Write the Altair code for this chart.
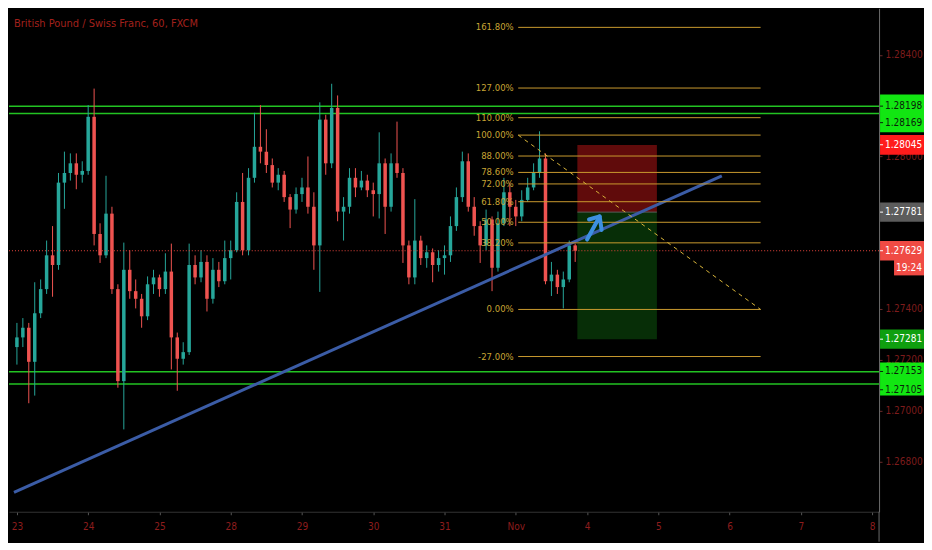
import json
import altair as alt
import pandas as pd

W, H = 871, 504
FONT = "Liberation Sans Narrow, DejaVu Sans Condensed, Liberation Sans, Arial, sans-serif"

title_text = "British Pound / Swiss Franc, 60, FXCM"
day_labels = ["23", "24", "25", "28", "29", "30", "31", "Nov", "4", "5", "6", "7", "8"]
# price-scale ticks that are not fully hidden behind the marker boxes
y_ticks = [1.268, 1.270, 1.272, 1.274, 1.280, 1.284]

first_open = 1.27250
closes = [
    1.27288, 1.27326, 1.27192, 1.27383, 1.27478, 1.27611, 1.27573, 1.27897, 1.27935, 1.27973,
    1.27928, 1.27943, 1.28156, 1.27695, 1.27611, 1.27775, 1.27478, 1.27116, 1.27554, 1.27470,
    1.27440, 1.27371, 1.27497, 1.27524, 1.27478, 1.27547, 1.27288, 1.27204, 1.27230, 1.27573,
    1.27524, 1.27585, 1.27440, 1.27554, 1.27509, 1.27600, 1.27631, 1.27821, 1.27631, 1.27916,
    1.28038, 1.28019, 1.27966, 1.27897, 1.27928, 1.27840, 1.27791, 1.27852, 1.27878, 1.27802,
    1.27650, 1.28145, 1.27973, 1.28191, 1.27783, 1.27802, 1.27916, 1.27878, 1.27905, 1.27867,
    1.27852, 1.27973, 1.27802, 1.27973, 1.27935, 1.27650, 1.27524, 1.27669, 1.27600, 1.27623,
    1.27573, 1.27600, 1.27611, 1.27726, 1.27840, 1.27981, 1.27802, 1.27726, 1.27650, 1.27752,
    1.27562, 1.27737, 1.27859, 1.27802, 1.27764, 1.27829, 1.27878, 1.27935, 1.27992, 1.27509,
    1.27535, 1.27486, 1.27516, 1.27650, 1.27629,
]
highs = [
    1.27345, 1.27364, 1.27345, 1.27505, 1.27516, 1.27669, 1.27726, 1.27935, 1.28019, 1.28012,
    1.28012, 1.27981, 1.28202, 1.28267, 1.27737, 1.27924, 1.27802, 1.27497, 1.27661, 1.27631,
    1.27516, 1.27459, 1.27528, 1.27554, 1.27535, 1.27619, 1.27657, 1.27307, 1.27269, 1.27657,
    1.27611, 1.27631, 1.27611, 1.27600, 1.27585, 1.27669, 1.27669, 1.27859, 1.27935, 1.27954,
    1.28172, 1.28202, 1.28107, 1.27992, 1.27954, 1.27943, 1.27852, 1.27878, 1.27916, 1.28000,
    1.27859, 1.28213, 1.28164, 1.28286, 1.28240, 1.27840, 1.27954, 1.27954, 1.27943, 1.27928,
    1.27897, 1.28095, 1.27992, 1.28012, 1.28137, 1.27954, 1.27669, 1.27832, 1.27688, 1.27650,
    1.27638, 1.27631, 1.27650, 1.27764, 1.27878, 1.28019, 1.28012, 1.27840, 1.27745, 1.27791,
    1.27764, 1.27783, 1.27916, 1.27897, 1.27829, 1.27867, 1.27916, 1.27973, 1.28099, 1.28012,
    1.27585, 1.27554, 1.27547, 1.27669, 1.27657,
]
lows = [
    1.27181, 1.27250, 1.27029, 1.27059, 1.27364, 1.27459, 1.27448, 1.27554, 1.27794, 1.27905,
    1.27871, 1.27897, 1.27928, 1.27650, 1.27581, 1.27600, 1.27459, 1.27090, 1.26926, 1.27440,
    1.27402, 1.27326, 1.27356, 1.27459, 1.27448, 1.27459, 1.27162, 1.27078, 1.27181, 1.27219,
    1.27497, 1.27505, 1.27390, 1.27421, 1.27486, 1.27497, 1.27516, 1.27623, 1.27611, 1.27611,
    1.27897, 1.27973, 1.27935, 1.27878, 1.27867, 1.27821, 1.27718, 1.27775, 1.27821, 1.27775,
    1.27554, 1.27467, 1.27928, 1.27954, 1.27745, 1.27669, 1.27775, 1.27840, 1.27867, 1.27840,
    1.27764, 1.27756, 1.27695, 1.27783, 1.27916, 1.27581, 1.27497, 1.27497, 1.27573, 1.27562,
    1.27505, 1.27547, 1.27535, 1.27585, 1.27707, 1.27821, 1.27783, 1.27688, 1.27581, 1.27631,
    1.27470, 1.27547, 1.27726, 1.27726, 1.27726, 1.27745, 1.27821, 1.27867, 1.27916, 1.27497,
    1.27451, 1.27459, 1.27402, 1.27505, 1.27585,
]
bars_per_day = 12

# horizontal support / resistance levels
green_levels = [1.28198, 1.28169, 1.27153, 1.27105]
current_price = 1.27629
countdown = "19:24"

# fibonacci retracement
fib_ratios = [1.618, 1.27, 1.10, 1.00, 0.88, 0.786, 0.72, 0.618, 0.50, 0.382, 0.0, -0.27]
fib_p0, fib_p100 = 1.27398, 1.28084
fib_day0, fib_day1 = 7.034, 10.435
fib_label_day = 6.97

# short position tool
pos_day0, pos_day1 = 7.864, 8.980
pos_entry, pos_stop, pos_target = 1.27781, 1.28045, 1.27281

# trend line
trend_days = [-0.041, 9.891]
trend_prices = [1.26678, 1.27924]

# hand drawn arrow
arrow_days = [8.000, 8.177, 8.027, 8.177, 8.204]
arrow_prices = [1.27673, 1.27764, 1.27752, 1.27764, 1.27711]
arrow_seg = [0, 0, 1, 1, 1]

# price scale labels (value shown, price where the text sits)
label_values = [1.28198, 1.28169, 1.28045, 1.27781, 1.27629, 1.27281, 1.27153, 1.27105]
label_text_prices = [1.28198, 1.28133, 1.28046, 1.27781, 1.27629, 1.27281, 1.27154, 1.27082]
label_text_cols = ["#0a1f0a", "#0a1f0a", "#ffffff", "#ffffff", "#ffffff", "#ffffff", "#0a1f0a", "#0a1f0a"]
# price scale boxes (top, bottom, fill)
box_tops = [1.28244, 1.28084, 1.27819, 1.27667, 1.27319, 1.27189]
box_bottoms = [1.28095, 1.28007, 1.27743, 1.27591, 1.27243, 1.27059]
box_fills = ["#12e612", "#ff1c1c", "#5c5c5c", "#f04b44", "#0f9f0f", "#12e612"]

X_MIN, X_MAX = -0.041, 12.027
Y_MIN, Y_MAX = 1.26602, 1.28583

xs = alt.Scale(domain=[X_MIN, X_MAX], nice=False, zero=False)
ys = alt.Scale(domain=[Y_MIN, Y_MAX], nice=False, zero=False)
x_axis = alt.Axis(
    values=list(range(len(day_labels))),
    labelExpr=json.dumps(day_labels) + "[datum.value]",
    title=None, grid=False, domainColor="#333333", tickColor="#555555", tickSize=3,
    labelColor="#8e1d1d", labelFont=FONT, labelFontSize=10, labelPadding=7,
    labelFlush=False, labelOverlap=False, minExtent=30, maxExtent=30,
)
y_axis = alt.Axis(
    orient="right", values=y_ticks, format=".5f", title=None, grid=False,
    domainColor="#6a6a6a", tickColor="#6a2a2a", tickSize=3,
    labelColor="#7d1c1c", labelFont=FONT, labelFontSize=10, labelPadding=3,
    labelFlush=False, labelOverlap=False, minExtent=45, maxExtent=45,
)


def X(field):
    return alt.X(field, type="quantitative", scale=xs, axis=x_axis)


def Y(field):
    return alt.Y(field, type="quantitative", scale=ys, axis=y_axis)


opens = [first_open] + closes[:-1]
candles = pd.DataFrame({
    "day": [i / bars_per_day for i in range(len(closes))],
    "open": opens, "high": highs, "low": lows, "close": closes,
})
candles["col"] = ["#26a69a" if c >= o else "#ef5350" for o, c in zip(opens, closes)]

wicks = alt.Chart(candles).mark_rule(strokeWidth=1).encode(
    x=X("day"), y=Y("low"), y2="high", color=alt.Color("col:N", scale=None))
bodies = alt.Chart(candles).mark_bar(size=3.5, orient="vertical").encode(
    x=X("day"), y=Y("open"), y2="close", color=alt.Color("col:N", scale=None))

pos_df = pd.DataFrame({
    "d0": [pos_day0, pos_day0], "d1": [pos_day1, pos_day1],
    "p0": [pos_entry, pos_target], "p1": [pos_stop, pos_entry],
    "fill": ["#b81616", "#148c14"], "op": [0.52, 0.33],
})
pos_boxes = alt.Chart(pos_df).mark_rect().encode(
    x=X("d0"), x2="d1", y=Y("p0"), y2="p1",
    color=alt.Color("fill:N", scale=None), opacity=alt.Opacity("op:Q", scale=None))
pos_line = alt.Chart(pd.DataFrame({"d0": [pos_day0], "d1": [pos_day1], "p": [pos_entry]})).mark_rule(
    color="#5a5a5a", strokeWidth=1).encode(x=X("d0"), x2="d1", y=Y("p"))

green_df = pd.DataFrame({"p": green_levels})
green_lines = alt.Chart(green_df).mark_rule(color="#22c322", strokeWidth=1.5).encode(
    x=alt.value(0), x2=alt.value(W), y=Y("p"))

trend = alt.Chart(pd.DataFrame({"day": trend_days, "p": trend_prices})).mark_line(
    color="#3b5ca6", strokeWidth=3, clip=True).encode(x=X("day"), y=Y("p"))

fib_df = pd.DataFrame({
    "p": [fib_p0 + r * (fib_p100 - fib_p0) for r in fib_ratios],
    "lab": ["{:.2f}%".format(r * 100) for r in fib_ratios],
    "d0": fib_day0, "d1": fib_day1, "dl": fib_label_day,
})
fib_lines = alt.Chart(fib_df).mark_rule(color="#c99a2e", strokeWidth=1).encode(
    x=X("d0"), x2="d1", y=Y("p"))
fib_labels = alt.Chart(fib_df).mark_text(
    align="right", baseline="middle", font=FONT, fontSize=9.5, color="#c8a434").encode(
    x=X("dl"), y=Y("p"), text="lab:N")
fib_diag = alt.Chart(pd.DataFrame({"day": [fib_day0, fib_day1], "p": [fib_p100, fib_p0]})).mark_line(
    color="#d9b53a", strokeWidth=1, strokeDash=[4, 4]).encode(x=X("day"), y=Y("p"))

cur_line = alt.Chart(pd.DataFrame({"p": [current_price]})).mark_rule(
    color="#e8453c", strokeWidth=1, strokeDash=[1, 2]).encode(
    x=alt.value(0), x2=alt.value(W), y=Y("p"))

arrow = alt.Chart(pd.DataFrame({
    "day": arrow_days, "p": arrow_prices, "seg": arrow_seg, "ord": list(range(len(arrow_days)))})).mark_line(
    color="#3d8fe0", strokeWidth=4, strokeCap="round", strokeJoin="round").encode(
    x=X("day"), y=Y("p"), detail="seg:N", order="ord:Q")

box_df = pd.DataFrame({"top": box_tops, "bot": box_bottoms, "fill": box_fills})
lab_boxes = alt.Chart(box_df).mark_rect().encode(
    x=alt.value(W + 1), x2=alt.value(W + 45), y=Y("top"), y2="bot",
    color=alt.Color("fill:N", scale=None))

lab_df = pd.DataFrame({
    "p": label_text_prices,
    "txt": ["{:.5f}".format(v) for v in label_values],
    "tcol": label_text_cols,
})
lab_ticks = alt.Chart(lab_df).mark_rule(strokeWidth=1).encode(
    x=alt.value(W + 1), x2=alt.value(W + 4), y=Y("p"), color=alt.Color("tcol:N", scale=None))
lab_texts = alt.Chart(lab_df).mark_text(
    align="left", baseline="middle", font=FONT, fontSize=10).encode(
    x=alt.value(W + 6), y=Y("p"), text="txt:N", color=alt.Color("tcol:N", scale=None))

cd_df = pd.DataFrame({"p": [current_price - 0.00066], "txt": [countdown]})
cd_df["top"] = cd_df["p"] + 0.00031
cd_df["bot"] = cd_df["p"] - 0.00031
cd_box = alt.Chart(cd_df).mark_rect(color="#f04b44").encode(
    x=alt.value(W + 15), x2=alt.value(W + 45), y=Y("top"), y2="bot")
cd_text = alt.Chart(cd_df).mark_text(
    align="left", baseline="middle", font=FONT, fontSize=10, color="#ffffff").encode(
    x=alt.value(W + 17), y=Y("p"), text="txt:N")

edge = alt.Chart(pd.DataFrame({"a": [0]})).mark_rule(color="#6a6a6a").encode(
    x=alt.value(W), y=alt.value(H), y2=alt.value(H + 30))

title = alt.Chart(pd.DataFrame({"t": [title_text]})).mark_text(
    align="left", baseline="middle", font=FONT, fontSize=11, color="#a3201c").encode(
    x=alt.value(5), y=alt.value(16), text="t:N")

chart = alt.layer(
    pos_boxes, pos_line, green_lines, wicks, bodies, cur_line, trend,
    fib_lines, fib_diag, fib_labels, arrow,
    lab_boxes, lab_ticks, lab_texts, cd_box, cd_text, edge, title,
).properties(
    width=W, height=H, padding=0, background="#000000"
).configure_view(stroke=None)

chart.save("out.html", embed_options={"renderer": "svg", "actions": False})
